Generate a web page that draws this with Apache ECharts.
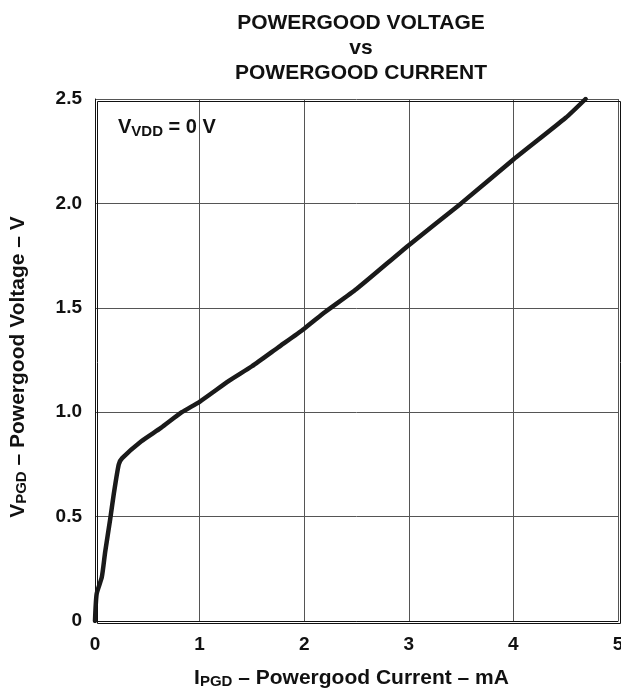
<!DOCTYPE html>
<html>
<head>
<meta charset="utf-8">
<script src="https://cdn.jsdelivr.net/npm/echarts@6/dist/echarts.min.js"></script>
<style>
  html, body { margin: 0; padding: 0; background: #fff; }
  #chart { width: 621px; height: 690px; }
</style>
</head>
<body>
<div id="chart"></div>
<script>
// I_PGD (mA) vs V_PGD (V)
const currentMA = [0, 0.016, 0.065, 0.097, 0.146, 0.18, 0.227, 0.26, 0.44, 0.63, 0.83, 1.0, 1.28, 1.5, 1.75, 2.0, 2.2, 2.5, 3.0, 3.5, 4.0, 4.5, 4.69]
const voltageV = [0, 0.13, 0.21, 0.33, 0.49, 0.61, 0.75, 0.78, 0.86, 0.925, 1.0, 1.05, 1.15, 1.22, 1.31, 1.40, 1.48, 1.59, 1.80, 2.0, 2.21, 2.41, 2.5]
const yTickLabels = { 0: '0', 0.5: '0.5', 1: '1.0', 1.5: '1.5', 2: '2.0', 2.5: '2.5' }

const font = 'Liberation Sans, Arial, sans-serif'
let myChart = echarts.init(document.getElementById('chart'))

let nameRich = {
  m: { fontFamily: font, fontWeight: 'bold', fontSize: 21, color: '#111' },
  s: { fontFamily: font, fontWeight: 'bold', fontSize: 15, color: '#111', verticalAlign: 'bottom', padding: [7, 0, 0, 0] }
}

let option = {
  animation: false,
  title: {
    text: 'POWERGOOD VOLTAGE\nvs\nPOWERGOOD CURRENT',
    left: 356,
    top: 6,
    textAlign: 'center',
    textStyle: { fontFamily: font, fontWeight: 'bold', fontSize: 21, lineHeight: 25, color: '#111' }
  },
  grid: { left: 95, right: 3, top: 99, bottom: 69, outerBoundsMode: 'none', containLabel: false },
  xAxis: {
    type: 'value',
    min: 0, max: 5, interval: 1,
    name: '{m|I}{s|PGD}{m| – Powergood Current – mA}',
    nameLocation: 'middle',
    nameGap: 46,
    nameTextStyle: { rich: nameRich, padding: [0, 10, 0, 0] },
    axisLine: { show: true, lineStyle: { color: '#111', width: 1 } },
    axisTick: { show: false },
    splitLine: { show: true, lineStyle: { color: '#555', width: 1 } },
    axisLabel: { fontFamily: font, fontWeight: 'bold', fontSize: 19, color: '#111', margin: 14 }
  },
  yAxis: {
    type: 'value',
    min: 0, max: 2.5, interval: 0.5,
    name: '{m|V}{s|PGD}{m| – Powergood Voltage – V}',
    nameLocation: 'middle',
    nameGap: 66,
    nameTextStyle: { rich: nameRich, padding: [0, 14, 0, 0] },
    axisLine: { show: true, lineStyle: { color: '#111', width: 1 } },
    axisTick: { show: false },
    splitLine: { show: true, lineStyle: { color: '#555', width: 1 } },
    axisLabel: {
      fontFamily: font, fontWeight: 'bold', fontSize: 19, color: '#111', margin: 13,
      formatter: function (v) { return yTickLabels[v] !== undefined ? yTickLabels[v] : '' }
    }
  },
  graphic: [
    {
      type: 'rect', left: 95, top: 99, z: 10, silent: true,
      shape: { width: 523, height: 522 },
      style: { fill: 'none', stroke: '#111', lineWidth: 1 }
    },
    {
      type: 'text', left: 118, top: 117, z: 11,
      style: {
        text: '{m|V}{s|VDD}{m| = 0 V}',
        rich: {
          m: { fontFamily: font, fontWeight: 'bold', fontSize: 20, fill: '#111' },
          s: { fontFamily: font, fontWeight: 'bold', fontSize: 15, fill: '#111', padding: [9, 0, 0, 0] }
        }
      }
    }
  ],
  series: [{
    type: 'line',
    data: currentMA.map(function (x, i) { return [x, voltageV[i]] }),
    showSymbol: false,
    smooth: 0.2,
    lineStyle: { color: '#1a1a1a', width: 4.5, cap: 'round', join: 'round' }
  }]
}
myChart.setOption(option)
</script>
</body>
</html>
